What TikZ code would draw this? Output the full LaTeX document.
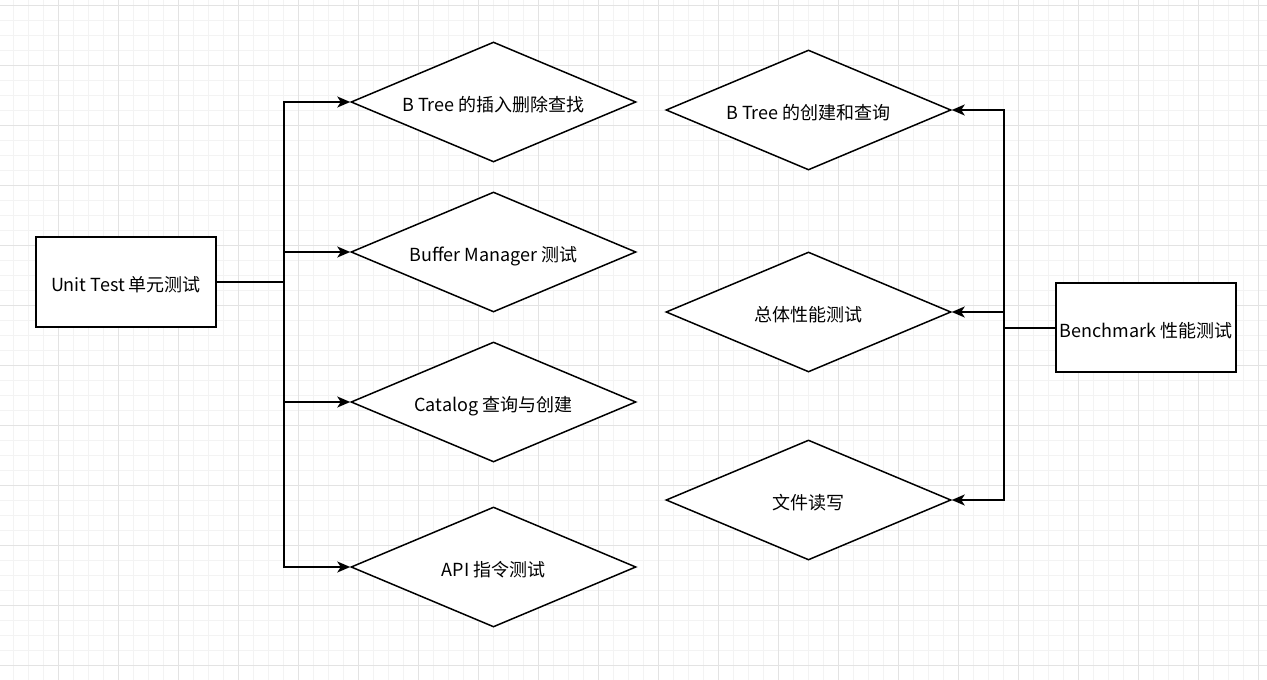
\documentclass[tikz,border=0pt]{standalone}
\usepackage{fontspec}
\setmainfont{Noto Sans CJK SC}
\usetikzlibrary{shapes.geometric,arrows.meta}
\definecolor{gridminor}{HTML}{F3F3F3}
\definecolor{gridmajor}{HTML}{E3E3E3}
\tikzset{
  box/.style={draw=black, line width=1.5pt, fill=white, minimum width=180pt, minimum height=90pt, inner sep=0pt, text height=19pt, text depth=0pt, font=\fontsize{18}{22}\selectfont},
  dia/.style={draw=black, line width=1.5pt, fill=white, diamond, aspect=2.375, minimum width=285pt, minimum height=120pt, inner sep=0pt, text height=19pt, text depth=0pt, font=\fontsize{18}{22}\selectfont},
  link/.style={draw=black, line width=1.5pt},
  arrowlink/.style={link, -{Stealth[length=13pt, width=11pt, inset=3.5pt]}}
}
\begin{document}
\begin{tikzpicture}[x=1pt,y=-1pt]
\useasboundingbox (0,0) rectangle (1267,680);
\fill[white] (0,0) rectangle (1267,680);
% grid
\foreach \i in {0,...,84} {
  \pgfmathsetmacro{\gx}{13+15*\i}
  \draw[gridminor, line width=1pt] (\gx,0) -- (\gx,680);
}
\foreach \i in {0,...,45} {
  \pgfmathsetmacro{\gy}{5+15*\i}
  \draw[gridminor, line width=1pt] (0,\gy) -- (1267,\gy);
}
\foreach \i in {0,...,21} {
  \pgfmathsetmacro{\gx}{58+60*\i}
  \draw[gridmajor, line width=1pt] (\gx,0) -- (\gx,680);
}
\foreach \i in {0,...,11} {
  \pgfmathsetmacro{\gy}{5+60*\i}
  \draw[gridmajor, line width=1pt] (0,\gy) -- (1267,\gy);
}
% nodes
\node[box] (ut) at (126,282) {Unit Test 单元测试};
\node[box, minimum height=89pt] (bm) at (1146,327.5) {Benchmark 性能测试};
\node[dia] (d1) at (493.5,102) {B Tree 的插入删除查找};
\node[dia] (d2) at (493.5,252) {Buffer Manager 测试};
\node[dia] (d3) at (493.5,402) {Catalog 查询与创建};
\node[dia] (d4) at (493.5,567) {API 指令测试};
\node[dia] (e1) at (808.5,110) {B Tree 的创建和查询};
\node[dia] (e2) at (808.5,312) {总体性能测试};
\node[dia] (e3) at (808.5,500) {文件读写};
% connectors
\coordinate (jl) at (284,282);
\coordinate (jr) at (1004,328);
\draw[link] (ut.east) -- (jl);
\draw[arrowlink] (jl) |- (d1.west);
\draw[arrowlink] (jl) |- (d2.west);
\draw[arrowlink] (jl) |- (d3.west);
\draw[arrowlink] (jl) |- (d4.west);
\draw[link] (jr -| bm.west) -- (jr);
\draw[arrowlink] (jr) |- (e1.east);
\draw[arrowlink] (jr) |- (e2.east);
\draw[arrowlink] (jr) |- (e3.east);
\end{tikzpicture}
\end{document}
